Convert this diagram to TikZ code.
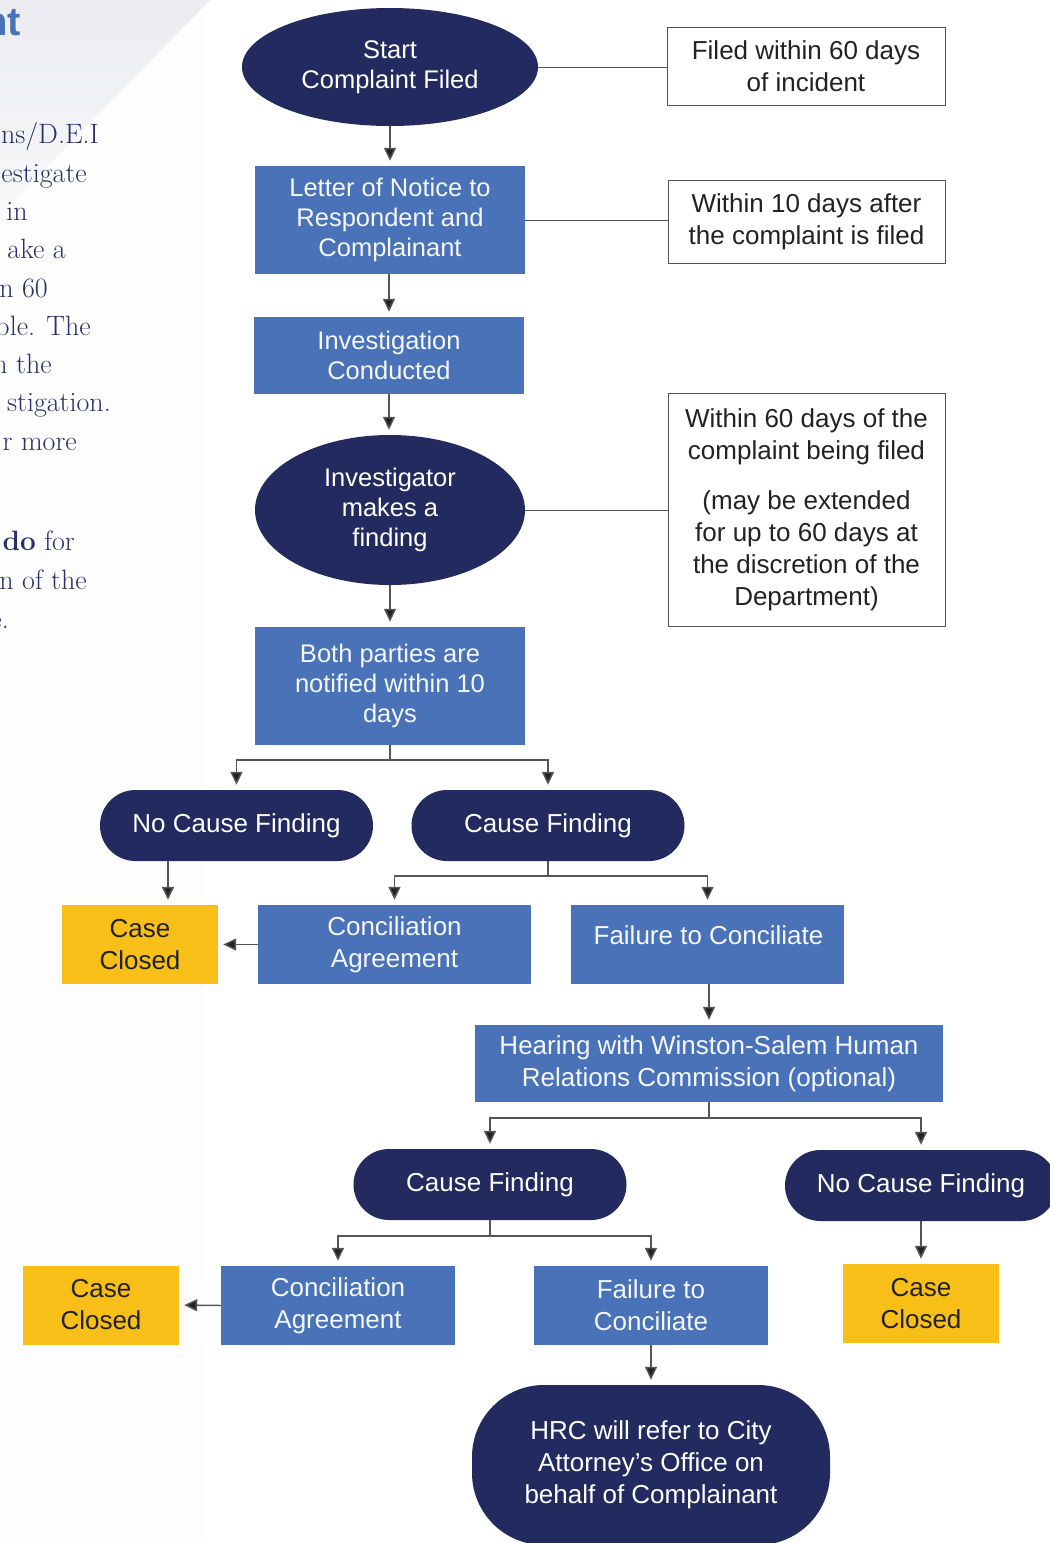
\documentclass[tikz,border=0pt]{standalone}
\usepackage{fontspec}
\newfontfamily\arial{Liberation Sans}
\usetikzlibrary{shapes.geometric,arrows.meta,calc}
\definecolor{navy}{HTML}{232A5F}
\definecolor{boxblue}{HTML}{4A72B8}
\definecolor{caseyel}{HTML}{F7BF17}
\definecolor{conn}{HTML}{555555}
\definecolor{tipc}{HTML}{222222}
\definecolor{pagetxt}{HTML}{2B3068}
\definecolor{headblue}{HTML}{4A72B8}
\tikzset{
  dtext/.style={font=\arial\fontsize{26}{32}\selectfont, align=center, inner sep=0pt},
  tighttext/.style={font=\arial\fontsize{25.5}{30}\selectfont},
  ell/.style={dtext, ellipse, fill=navy, text=white},
  stad/.style={dtext, rectangle, rounded corners=35.5pt, fill=navy, text=white, minimum width=273pt, minimum height=71pt},
  bbox/.style={dtext, rectangle, fill=boxblue, text=white!94!boxblue},
  ybox/.style={dtext, rectangle, fill=caseyel, text=tipc, minimum width=156pt, minimum height=79pt},
  wbox/.style={dtext, rectangle, draw=conn, line width=1pt, fill=white, text=tipc},
  link/.style={draw=conn, line width=1.5pt},
  arr/.style={link, -{Triangle[width=12pt,length=13pt,fill=tipc]}, shorten >=5pt},
  frag/.style={anchor=base east, inner sep=0pt, text=pagetxt, font=\fontsize{28}{30}\selectfont},
}
\begin{document}
\begin{tikzpicture}[x=1pt,y=-1pt]
\useasboundingbox (0,0) rectangle (1050,1543);
\clip (0,0) rectangle (1050,1543);
% left page background
\fill[color=white!99!navy] (0,0) rectangle (205,1543);
\shade[top color=navy!9, bottom color=navy!3] (0,0) -- (210,0) -- (0,215) -- cycle;
% page text fragments
\node[anchor=base east, inner sep=0pt, text=headblue, font=\arial\bfseries\fontsize{40}{40}\selectfont] (h) at (21,35) {nt};
\node[frag] (f1) at (99,143) {ns/D.E.I};
\node[frag] (f2) at (87,182) {estigate};
\node[frag] (f3) at (28,220) {in};
\node[frag] (f4) at (66,258) {ake a};
\node[frag] (f5) at (48,297) {n 60};
\node[frag] (f6) at (91,335) {ble. The};
\node[frag] (f7) at (52,373) {n the};
\node[frag] (f8) at (111,411) {stigation.};
\node[frag] (f9) at (77,450) {r more};
\node[frag] (f10) at (75,550) {\textbf{do} for};
\node[frag] (f11) at (87,589) {n of the};
\node[frag] (f12) at (9,628) {e.};

% main column
\node[ell, tighttext, minimum width=296pt, minimum height=118pt] (start) at (390,67) {Start\\Complaint Filed};
\node[bbox, tighttext, minimum width=270pt, minimum height=108pt] (letter) at (390,220) {Letter of Notice to\\Respondent and\\Complainant};
\node[bbox, tighttext, minimum width=270pt, minimum height=77pt] (inv) at (389,355.5) {Investigation\\Conducted};
\node[ell, tighttext, minimum width=270pt, minimum height=150pt] (finding) at (390,510) {Investigator\\makes a\\finding};
\node[bbox, tighttext, minimum width=270pt, minimum height=118pt] (both) at (390,686) {Both parties are\\notified within 10\\days};

% side notes
\node[wbox, minimum width=278pt, minimum height=78pt] (n1) at (806,66) {Filed within 60 days\\of incident};
\node[wbox, minimum width=277pt, minimum height=83pt] (n2) at (806.5,221.5) {Within 10 days after\\the complaint is filed};
\node[wbox, minimum width=277pt, minimum height=233pt] (n3) at (806.5,509.5) {Within 60 days of the\\complaint being filed\\[18pt](may be extended\\for up to 60 days at\\the discretion of the\\Department)};

% first findings
\node[stad] (ncf) at (236.5,825.5) {No Cause Finding};
\node[stad] (cf) at (548,825.5) {Cause Finding};
\node[ybox] (cc1) at (140,944.5) {Case\\Closed};
\node[bbox, minimum width=273pt, minimum height=79pt] (ca1) at (394.5,944.5) {Conciliation\\Agreement};
\node[bbox, minimum width=273pt, minimum height=79pt] (fc1) at (707.5,944.5) {};
\node[dtext, text=white!94!boxblue] (fc1t) at (708.5,935) {Failure to Conciliate};
\node[bbox, minimum width=468pt, minimum height=77pt] (hear) at (709,1063.5) {Hearing with Winston-Salem Human\\Relations Commission (optional)};

% second findings
\node[stad] (cf2) at (490,1184.5) {Cause Finding};
\node[stad, minimum width=272pt] (ncf2) at (921,1185.5) {No Cause Finding};
\node[ybox] (cc2) at (101,1305) {Case\\Closed};
\node[bbox, minimum width=234pt, minimum height=79pt] (ca2) at (338,1305.5) {Conciliation\\Agreement};
\node[bbox, minimum width=234pt, minimum height=79pt] (fc2) at (651,1305.5) {Failure to\\Conciliate};
\node[ybox] (cc3) at (921,1303.5) {Case\\Closed};
\node[dtext, rectangle, rounded corners=72pt, fill=navy, text=white, minimum width=358pt, minimum height=160pt] (hrc) at (651,1465) {HRC will refer to City\\Attorney’s Office on\\behalf of Complainant};

% connectors to notes
\draw[link, line width=1pt] (start.east) -- (n1.west |- start.east);
\draw[link, line width=1pt] (letter.east) -- (n2.west |- letter.east);
\draw[link, line width=1pt] (finding.east) -- (n3.west |- finding.east);

% vertical flow
\draw[arr] (start.south) -- (letter.north);
\draw[arr] (letter.south -| inv.north) -- (inv.north);
\draw[arr] (inv.south) -- (finding.north -| inv.south);
\draw[arr] (finding.south) -- (both.north);

% branch 1
\coordinate (j1) at (390,760);
\draw[link] (both.south) -- (j1);
\draw[arr] (j1) -| (ncf.north);
\draw[arr] (j1) -| (cf.north);
\coordinate (t1) at (168,861);
\draw[arr] (t1) -- (t1 |- cc1.north);
\coordinate (j2) at (548,876);
\draw[link] (cf.south) -- (j2);
\draw[arr] (j2) -| (ca1.north);
\draw[arr] (j2) -| (fc1.north);
\draw[arr] (ca1.west) -- (cc1.east);
\draw[arr] (fc1.south -| hear.north) -- (hear.north);

% branch 2
\coordinate (j3) at (709,1118);
\draw[link] (hear.south) -- (j3);
\draw[arr] (j3) -| (cf2.north);
\draw[arr] (j3) -| (ncf2.north);
\coordinate (j4) at (490,1236);
\draw[link] (cf2.south) -- (j4);
\draw[arr] (j4) -| (ca2.north);
\draw[arr] (j4) -| (fc2.north);
\draw[arr] (ca2.west) -- (cc2.east);
\draw[arr] (ncf2.south) -- (cc3.north -| ncf2.south);
\draw[arr] (fc2.south) -- (hrc.north);
\end{tikzpicture}
\end{document}
